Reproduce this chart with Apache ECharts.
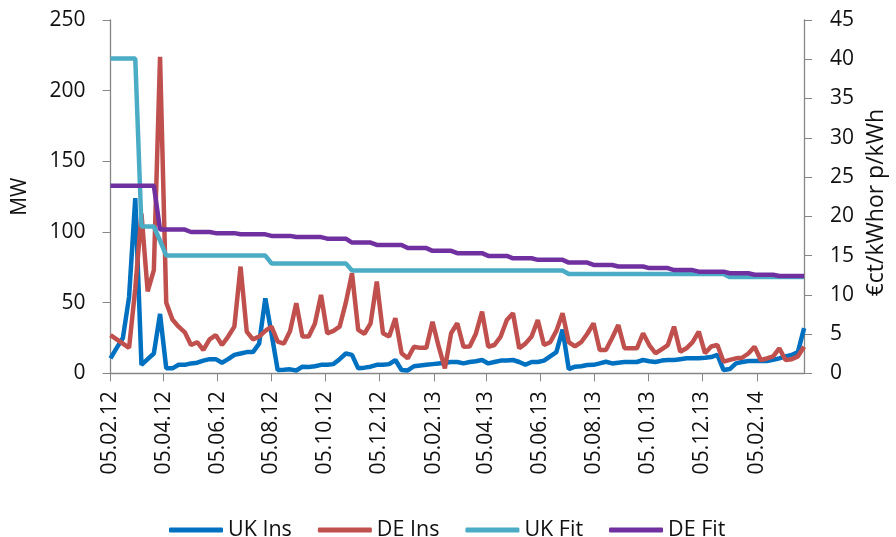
<!DOCTYPE html>
<html>
<head>
<meta charset="utf-8">
<script src="https://cdn.jsdelivr.net/npm/echarts@6/dist/echarts.min.js"></script>
<style>
html, body { margin: 0; padding: 0; background: #fff; }
#chart { width: 896px; height: 537px; }
</style>
</head>
<body>
<div id="chart"></div>
<script>
// weekly values, first week is 05.02.12
const ukIns = [
  10.6, 18, 25, 54, 124, 6, 10, 14, 42, 3.5,
  3.5, 6, 6, 7, 7.5, 9, 10, 10, 7.5, 10,
  13, 14, 15, 15, 21, 53, 28, 2.3, 2.5, 2.8,
  2, 4.7, 4.5, 5, 6, 6, 6.5, 10, 14, 13,
  3.5, 4, 4.7, 6, 6, 6.5, 9.4, 2.3, 2, 5,
  5.5, 6, 6.5, 7, 7.5, 8, 8, 7, 8, 8.5,
  9.4, 7, 8, 9, 9, 9.4, 8, 6, 8, 8,
  9, 12, 15, 31, 3, 4.7, 5, 5.9, 6, 7,
  8.2, 7, 7.5, 8, 8, 8, 9.4, 8.5, 8, 9,
  9.4, 9.4, 10, 10.6, 10.6, 10.6, 11, 11.5, 13, 2.3,
  3, 7, 8, 8.7, 8.7, 8.7, 8.7, 9.5, 10.6, 12,
  13, 15, 32
]
const deIns = [
  27, 24, 21, 18, 60, 113, 58, 73, 224, 50,
  38, 33, 29, 20, 22, 16.5, 24, 27, 20, 26,
  33, 75.5, 29.5, 24, 26, 30, 33, 22.4, 21, 30,
  49.6, 26, 26, 35, 55.5, 28.3, 30, 33, 50, 70.8,
  30.7, 28, 35.4, 64.9, 28.3, 26, 39, 14.2, 10.6, 18.8,
  18, 18, 36.5, 18.8, 3.5, 28.3, 35.4, 18.8, 19, 28,
  43.6, 18.8, 20, 26, 37.7, 42.5, 17.7, 21, 26, 37.7,
  20, 22, 30, 42.5, 22, 19, 22, 28, 35.4, 16.5,
  16.5, 25, 34.2, 17.7, 17.7, 17.7, 28.3, 20, 14.2, 17,
  20, 33, 15.3, 17.7, 22, 29.5, 14.2, 19, 20, 8.2,
  9.5, 10.6, 11, 14, 18.8, 9.4, 10.5, 12, 17.7, 9.4,
  10, 12, 18.8
]
const ukFit = [
  40.1, 40.1, 40.1, 40.1, 40.1, 18.7, 18.7, 18.7, 16.9, 15,
  15, 15, 15, 15, 15, 15, 15, 15, 15, 15,
  15, 15, 15, 15, 15, 15, 14, 14, 14, 14,
  14, 14, 14, 14, 14, 14, 14, 14, 14, 13.1,
  13.1, 13.1, 13.1, 13.1, 13.1, 13.1, 13.1, 13.1, 13.1, 13.1,
  13.1, 13.1, 13.1, 13.1, 13.1, 13.1, 13.1, 13.1, 13.1, 13.1,
  13.1, 13.1, 13.1, 13.1, 13.1, 13.1, 13.1, 13.1, 13.1, 13.1,
  13.1, 13.1, 13.1, 13.1, 12.65, 12.65, 12.65, 12.65, 12.65, 12.65,
  12.65, 12.65, 12.65, 12.65, 12.65, 12.65, 12.65, 12.65, 12.65, 12.65,
  12.65, 12.65, 12.65, 12.65, 12.65, 12.65, 12.65, 12.65, 12.65, 12.65,
  12.25, 12.25, 12.25, 12.25, 12.25, 12.25, 12.25, 12.25, 12.25, 12.25,
  12.25, 12.25, 12.25
]
const deFit = [
  23.9, 23.9, 23.9, 23.9, 23.9, 23.9, 23.9, 23.9, 18.3, 18.3,
  18.3, 18.3, 18.3, 18, 18, 18, 18, 17.85, 17.85, 17.85,
  17.85, 17.7, 17.7, 17.7, 17.7, 17.7, 17.5, 17.5, 17.5, 17.5,
  17.35, 17.35, 17.35, 17.35, 17.35, 17.15, 17.15, 17.15, 17.15, 16.65,
  16.65, 16.65, 16.65, 16.35, 16.35, 16.35, 16.35, 16.35, 15.95, 15.95,
  15.95, 15.95, 15.6, 15.6, 15.6, 15.6, 15.3, 15.3, 15.3, 15.3,
  15.3, 14.95, 14.95, 14.95, 14.95, 14.65, 14.65, 14.65, 14.65, 14.45,
  14.45, 14.45, 14.45, 14.45, 14.1, 14.1, 14.1, 14.1, 13.8, 13.8,
  13.8, 13.8, 13.6, 13.6, 13.6, 13.6, 13.6, 13.4, 13.4, 13.4,
  13.4, 13.15, 13.15, 13.15, 13.15, 12.95, 12.95, 12.95, 12.95, 12.95,
  12.75, 12.75, 12.75, 12.75, 12.55, 12.55, 12.55, 12.55, 12.4, 12.4,
  12.4, 12.4, 12.4
]
const tickLabels = [
  '05.02.12', '05.04.12', '05.06.12', '05.08.12', '05.10.12', '05.12.12',
  '05.02.13', '05.04.13', '05.06.13', '05.08.13', '05.10.13', '05.12.13', '05.02.14'
]

const toDate = (s) => {
  const p = s.split('.')
  return new Date(2000 + Number(p[2]), Number(p[1]) - 1, Number(p[0])).getTime()
}
const fmt = (t) => {
  const d = new Date(t)
  const pad = (n) => (n < 10 ? '0' : '') + n
  return pad(d.getDate()) + '.' + pad(d.getMonth() + 1) + '.' + pad(d.getFullYear() % 100)
}
const weeks = ukIns.map((v, i) => new Date(2012, 1, 5 + 7 * i).getTime())
const tickValues = tickLabels.map(toDate)
const pair = (arr) => arr.map((v, i) => [weeks[i], v])

const font = 'Open Sans'
const axisGray = '#868686'
const textColor = '#111'

const chart = echarts.init(document.getElementById('chart'))
chart.setOption({
  animation: false,
  textStyle: { fontFamily: font },
  grid: { left: 110.5, right: 89.3, top: 20, bottom: 163.7 },
  legend: {
    data: ['UK Ins', 'DE Ins', 'UK Fit', 'DE Fit'],
    left: 164,
    top: 514,
    icon: 'roundRect',
    itemWidth: 54,
    itemHeight: 5,
    itemGap: 26,
    textStyle: { fontFamily: font, fontSize: 21.5, color: textColor },
  },
  xAxis: {
    type: 'value',
    min: weeks[0],
    max: weeks[weeks.length - 1],
    axisLine: { lineStyle: { color: axisGray, width: 1.3 } },
    axisTick: { show: true, length: 8, lineStyle: { color: axisGray }, customValues: tickValues },
    axisLabel: {
      customValues: tickValues,
      formatter: (v) => fmt(v),
      rotate: 90,
      margin: 18,
      fontFamily: font,
      fontSize: 21,
      color: textColor,
    },
    splitLine: { show: false },
  },
  yAxis: [
    {
      type: 'value',
      min: 0,
      max: 250,
      interval: 50,
      name: 'MW',
      nameLocation: 'middle',
      nameGap: 80,
      nameTextStyle: { fontFamily: font, fontSize: 21, color: textColor },
      axisLine: { show: true, lineStyle: { color: axisGray, width: 1.3 } },
      axisTick: { show: true, length: 8, lineStyle: { color: axisGray } },
      axisLabel: { margin: 25, fontFamily: font, fontSize: 21, color: textColor },
      splitLine: { show: false },
    },
    {
      type: 'value',
      min: 0,
      max: 45,
      interval: 5,
      position: 'right',
      name: '€ct/kWhor p/kWh',
      nameLocation: 'middle',
      nameGap: 60,
      nameTextStyle: { fontFamily: font, fontSize: 23, color: textColor, padding: [0, 12, 0, 0] },
      axisLine: { show: true, lineStyle: { color: axisGray, width: 1.3 } },
      axisTick: { show: true, length: 8, lineStyle: { color: axisGray } },
      axisLabel: { margin: 26, fontFamily: font, fontSize: 21, color: textColor },
      splitLine: { show: false },
    },
  ],
  series: [
    { name: 'UK Ins', type: 'line', yAxisIndex: 0, data: pair(ukIns), showSymbol: false,
      lineStyle: { width: 4.5, color: '#0070C0' }, itemStyle: { color: '#0070C0' } },
    { name: 'DE Ins', type: 'line', yAxisIndex: 0, data: pair(deIns), showSymbol: false,
      lineStyle: { width: 4.5, color: '#C0504D' }, itemStyle: { color: '#C0504D' } },
    { name: 'UK Fit', type: 'line', yAxisIndex: 1, data: pair(ukFit), showSymbol: false,
      lineStyle: { width: 4.5, color: '#4BACC6' }, itemStyle: { color: '#4BACC6' } },
    { name: 'DE Fit', type: 'line', yAxisIndex: 1, data: pair(deFit), showSymbol: false,
      lineStyle: { width: 4.5, color: '#7030A0' }, itemStyle: { color: '#7030A0' } },
  ],
})
</script>
</body>
</html>
